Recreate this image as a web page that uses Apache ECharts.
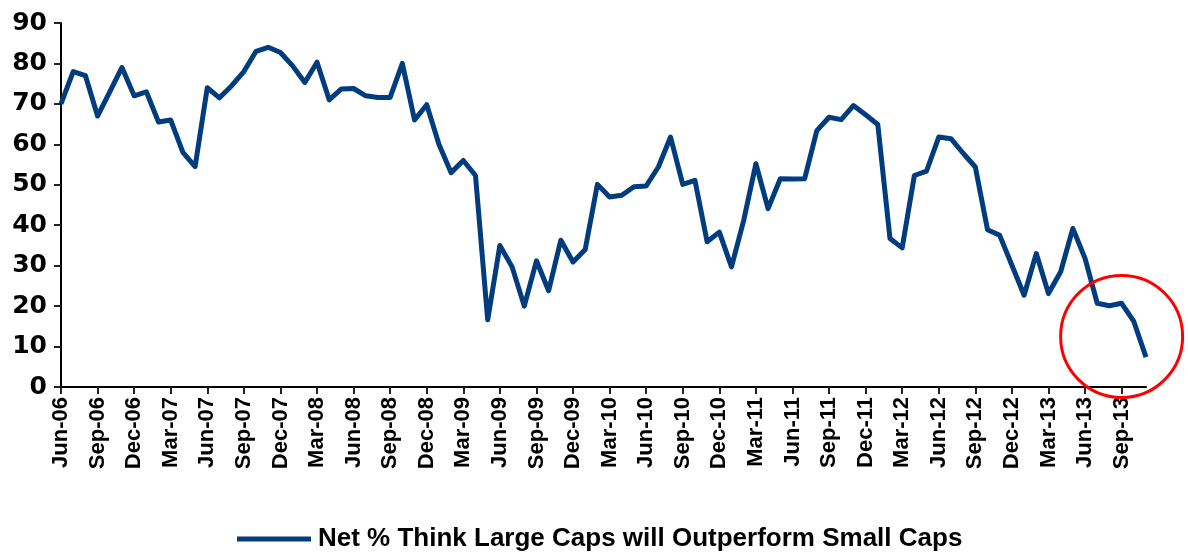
<!DOCTYPE html>
<html>
<head>
<meta charset="utf-8">
<script src="https://cdn.jsdelivr.net/npm/echarts@6/dist/echarts.min.js"></script>
<style>
  html, body { margin: 0; padding: 0; background: #fff; }
  #chart { width: 1188px; height: 552px; }
</style>
</head>
<body>
<div id="chart"></div>
<script>
// Monthly survey, Jun-06 .. Nov-13
const months = [
  'Jun-06', 'Jul-06', 'Aug-06', 'Sep-06', 'Oct-06', 'Nov-06', 'Dec-06',
  'Jan-07', 'Feb-07', 'Mar-07', 'Apr-07', 'May-07', 'Jun-07', 'Jul-07', 'Aug-07', 'Sep-07', 'Oct-07', 'Nov-07', 'Dec-07',
  'Jan-08', 'Feb-08', 'Mar-08', 'Apr-08', 'May-08', 'Jun-08', 'Jul-08', 'Aug-08', 'Sep-08', 'Oct-08', 'Nov-08', 'Dec-08',
  'Jan-09', 'Feb-09', 'Mar-09', 'Apr-09', 'May-09', 'Jun-09', 'Jul-09', 'Aug-09', 'Sep-09', 'Oct-09', 'Nov-09', 'Dec-09',
  'Jan-10', 'Feb-10', 'Mar-10', 'Apr-10', 'May-10', 'Jun-10', 'Jul-10', 'Aug-10', 'Sep-10', 'Oct-10', 'Nov-10', 'Dec-10',
  'Jan-11', 'Feb-11', 'Mar-11', 'Apr-11', 'May-11', 'Jun-11', 'Jul-11', 'Aug-11', 'Sep-11', 'Oct-11', 'Nov-11', 'Dec-11',
  'Jan-12', 'Feb-12', 'Mar-12', 'Apr-12', 'May-12', 'Jun-12', 'Jul-12', 'Aug-12', 'Sep-12', 'Oct-12', 'Nov-12', 'Dec-12',
  'Jan-13', 'Feb-13', 'Mar-13', 'Apr-13', 'May-13', 'Jun-13', 'Jul-13', 'Aug-13', 'Sep-13', 'Oct-13', 'Nov-13'
];

const netLargeOverSmall = [
  70, 78, 77, 67, 73, 79, 72,
  73, 65.5, 66, 58, 54.5, 74, 71.5, 74.5, 78, 83, 84, 82.7,
  79.4, 75.3, 80.3, 71, 73.7, 73.8, 72, 71.6, 71.6, 80, 66, 69.8,
  60, 53, 56, 52.3, 16.6, 35, 29.7, 20, 31.2, 23.8, 36.3, 30.9,
  34, 50.1, 47, 47.4, 49.5, 49.7, 54.4, 61.8, 50.1, 51.1, 35.9, 38.3,
  29.7, 41.2, 55.2, 44.1, 51.5, 51.4, 51.5, 63.4, 66.7, 66.1, 69.6, 67.3,
  64.9, 36.7, 34.4, 52.3, 53.4, 61.8, 61.4, 57.8, 54.4, 38.9, 37.5, 30.1,
  22.7, 33, 23.1, 28.5, 39.2, 31.8, 20.7, 20.1, 20.7, 16.2, 7.4
];

const seriesName = 'Net % Think Large Caps will Outperform Small Caps';

// annotation circle around the latest readings
const circleAt = ['Sep-13', 12.5];

const chart = echarts.init(document.getElementById('chart'));

chart.setOption({
  animation: false,
  grid: { left: 61, right: 42, top: 23, bottom: 165 },
  legend: {
    left: 232,
    top: 521,
    icon: 'rect',
    itemWidth: 74,
    itemHeight: 5,
    itemGap: 10,
    textStyle: {
      fontFamily: 'Liberation Sans',
      fontWeight: 'bold',
      fontSize: 26,
      color: '#000',
      padding: [0, 0, 0, 2]
    },
    data: [seriesName]
  },
  xAxis: {
    type: 'category',
    data: months,
    boundaryGap: false,
    axisLine: { lineStyle: { color: '#000', width: 2 } },
    axisTick: { interval: 2, length: 7, lineStyle: { color: '#222', width: 2 } },
    axisLabel: {
      interval: 2,
      rotate: 90,
      margin: 10,
      fontFamily: 'Liberation Sans',
      fontWeight: 'bold',
      fontSize: 22,
      color: '#000'
    },
    splitLine: { show: false }
  },
  yAxis: {
    type: 'value',
    min: 0,
    max: 90,
    interval: 10,
    axisLine: { show: true, lineStyle: { color: '#000', width: 2 } },
    axisTick: { show: true, length: 7, lineStyle: { color: '#222', width: 2 } },
    axisLabel: {
      margin: 14,
      fontFamily: 'DejaVu Sans',
      fontWeight: 'bold',
      fontSize: 25,
      color: '#000'
    },
    splitLine: { show: false }
  },
  series: [{
    name: seriesName,
    type: 'line',
    data: netLargeOverSmall,
    symbol: 'none',
    lineStyle: { color: '#003C7E', width: 5, join: 'round' },
    itemStyle: { color: '#003C7E' }
  }]
});

// red circle drawn at data position
const c = chart.convertToPixel({ gridIndex: 0 }, circleAt);
chart.setOption({
  graphic: [{
    type: 'circle',
    shape: { cx: c[0], cy: c[1], r: 61 },
    style: { fill: 'none', stroke: '#FF0000', lineWidth: 3 },
    z: 100
  }]
});
</script>
</body>
</html>
